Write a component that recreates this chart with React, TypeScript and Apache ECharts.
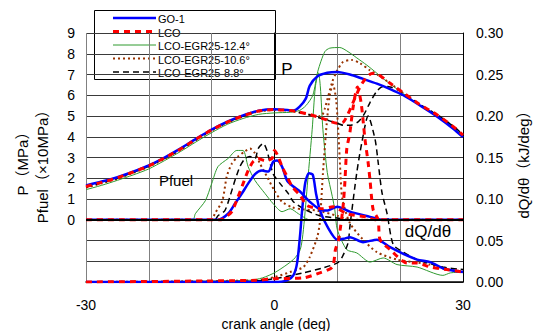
import React, { useEffect, useRef } from 'react';
import * as echarts from 'echarts';

const SERIES_NAMES = ['GO-1', 'LCO', 'LCO-EGR25-12.4°', 'LCO-EGR25-10.6°', 'LCO-EGR25-8.8°'];
const X_TICK_LABELS = [-30, 0, 30];
const LEFT_TICK_LABELS = [0, 1, 2, 3, 4, 5, 6, 7, 8, 9];

// Cylinder pressure P (MPa)
const pGO1 = [[-30,1.65],[-27.5,1.84],[-25,2.05],[-22.5,2.32],[-20,2.62],[-17.5,3.0],[-15,3.43],[-12.5,3.9],[-10,4.35],[-7.5,4.73],[-5,5.03],[-2.5,5.26],[0,5.33],[2.5,5.28],[3,5.26],[4,5.45],[5,5.85],[5.6,6.45],[6.8,6.9],[8.4,7.08],[10,7.12],[12,7.0],[14,6.8],[16.3,6.56],[18.4,6.3],[20.5,6.0],[23.2,5.5],[25.9,4.97],[28.4,4.4],[30,3.98]];
const pLCO = [[-30,1.6],[-27.5,1.8],[-25,2.02],[-22.5,2.3],[-20,2.6],[-17.5,2.98],[-15,3.4],[-12.5,3.88],[-10,4.33],[-7.5,4.71],[-5,5.01],[-2.5,5.24],[0,5.31],[2.5,5.26],[5,5.12],[7.5,4.9],[10,4.65],[11,4.72],[12,5.3],[13,6.0],[14,6.6],[15.5,7.05],[16.5,7.0],[18.4,6.58],[20.5,6.12],[23,5.58],[25.9,5.05],[28.4,4.5],[30,4.08]];
const pEGR124 = [[-30,1.45],[-27.5,1.66],[-25,1.9],[-22.5,2.16],[-20,2.45],[-17.5,2.85],[-15,3.28],[-12.5,3.75],[-10,4.2],[-7.5,4.6],[-5,4.88],[-2.5,5.08],[0,5.15],[2.5,5.18],[4,5.27],[5,5.5],[6.1,6.0],[6.9,7.16],[8,8.1],[8.8,8.27],[10.4,8.3],[11.7,8.1],[13.1,7.8],[14.7,7.45],[16.3,7.06],[17.3,6.8],[19.5,6.3],[20.5,6.08],[23,5.55],[25.9,5.0],[28.4,4.45],[30,4.0]];
const pEGR106 = [[-30,1.55],[-27.5,1.76],[-25,1.98],[-22.5,2.26],[-20,2.56],[-17.5,2.94],[-15,3.36],[-12.5,3.84],[-10,4.3],[-7.5,4.68],[-5,4.98],[-2.5,5.22],[0,5.29],[2.5,5.25],[5,5.1],[7,4.98],[7.6,5.05],[8,5.35],[9.2,6.65],[10,7.2],[10.9,7.6],[12.3,7.7],[13.6,7.55],[15.2,7.2],[16.5,6.97],[18.4,6.58],[20.5,6.1],[23,5.57],[25.9,5.05],[28.4,4.5],[30,4.06]];
const pEGR88 = [[-30,1.58],[-27.5,1.78],[-25,2.0],[-22.5,2.28],[-20,2.58],[-17.5,2.96],[-15,3.38],[-12.5,3.86],[-10,4.32],[-7.5,4.7],[-5,5.0],[-2.5,5.24],[0,5.31],[2.5,5.26],[5,5.1],[7.5,4.88],[10,4.65],[11,4.55],[12,4.55],[13.3,4.72],[14.2,5.05],[15.2,5.65],[16.3,6.2],[17.3,6.42],[18.4,6.4],[20,6.2],[21,6.0],[23,5.58],[25.9,5.05],[28.4,4.52],[30,4.1]];

// Fuel injection pressure Pfuel (x10 MPa)
const fGO1 = [[-30,0],[-9,0],[-7.4,0.29],[-6.3,0.77],[-5.2,1.26],[-4.2,1.74],[-3.1,2.2],[-2,2.37],[-1,2.32],[-0.2,2.8],[0.4,2.85],[1.2,2.56],[2,1.89],[3,1.6],[4.1,1.35],[5.6,0.87],[7.7,0.44],[8.5,0.45],[10,0.63],[12,0.39],[15.2,0.14],[17,0],[30,0]];
const fLCO = [[-30,0],[-8.5,0],[-7.9,0.1],[-6.8,0.39],[-5.8,1.11],[-5,1.74],[-4.2,2.37],[-3.4,2.8],[-2.6,2.95],[-1.5,2.85],[-0.4,2.95],[0,3.34],[0.5,3.1],[1.2,2.56],[2,2.08],[2.8,1.6],[4.1,1.16],[5.2,0.68],[7.7,0.53],[9.3,0.63],[11.5,0.29],[14.7,0.12],[16,0],[30,0]];
const fEGR124 = [[-30,0],[-13,0],[-12.6,0.29],[-11,0.92],[-10,1.74],[-9,2.56],[-7.4,2.95],[-6,3.34],[-5,3.34],[-4.2,2.56],[-3.1,1.89],[-1.5,1.26],[-0.2,0.77],[1.2,0.39],[2.5,0.53],[3.8,0.29],[5.6,0],[30,0]];
const fEGR106 = [[-30,0],[-10,0],[-9.5,0.29],[-8.3,0.92],[-7.6,2.08],[-6.8,2.7],[-5.8,3.05],[-4.7,3.3],[-3.9,3.43],[-3.1,3.2],[-2.3,2.7],[-1.2,2.08],[0,1.4],[1.2,0.87],[2.8,0.6],[4.5,0.5],[6.8,0.44],[10,0.19],[12,0],[30,0]];
const fEGR88 = [[-30,0],[-9.5,0],[-9,0.19],[-7.9,0.44],[-7.1,1.11],[-6.3,1.89],[-5.5,2.56],[-4.7,2.95],[-3.9,3.05],[-3.1,2.95],[-2.6,3.43],[-1.8,3.68],[-1.2,3.34],[-0.8,2.85],[-0.2,2.2],[0.9,1.74],[2.2,1.26],[3,0.87],[4.6,0.53],[7.2,0.19],[10,0.08],[12,0],[30,0]];

// Heat release rate dQ/dθ (kJ/deg)
const qGO1 = [[-30,0],[0,0],[2,0.002],[3,0.008],[3.6,0.023],[4.1,0.059],[4.4,0.087],[4.9,0.12],[5.5,0.131],[6.1,0.129],[6.6,0.107],[7.2,0.087],[8.4,0.067],[10,0.051],[11,0.052],[12,0.054],[14.1,0.048],[16.3,0.051],[18.4,0.042],[20.5,0.034],[22.7,0.027],[24.8,0.024],[27,0.016],[30,0.012]];
const qLCO = [[-30,0],[-3,0.002],[0,0.004],[4.6,0.005],[7.2,0.011],[9.2,0.018],[9.7,0.039],[10.2,0.051],[10.9,0.09],[11.2,0.12],[11.5,0.16],[12,0.18],[12.5,0.21],[13.2,0.235],[13.8,0.215],[14.4,0.172],[14.9,0.144],[15.2,0.123],[15.7,0.087],[16.5,0.075],[16.8,0.051],[18.4,0.039],[21.1,0.023],[22.7,0.023],[24.8,0.018],[27.4,0.015],[30,0.012]];
const qEGR124 = [[-30,0],[-4,0.002],[-1.9,0.005],[0.2,0.012],[3,0.027],[4.1,0.039],[4.6,0.063],[5.3,0.123],[6,0.184],[6.5,0.235],[7,0.252],[7.3,0.235],[7.7,0.184],[8.4,0.132],[9.2,0.103],[9.6,0.087],[10,0.063],[11.5,0.039],[13.1,0.035],[15.2,0.024],[17.3,0.029],[19.5,0.021],[22.7,0.018],[26.8,0.008],[28,0.011],[30,0.012]];
const qEGR106 = [[-30,0],[-3,0.002],[0,0.006],[2.5,0.012],[4.6,0.018],[5.6,0.03],[6.8,0.054],[7.2,0.071],[7.7,0.13],[8.3,0.19],[8.8,0.225],[9.3,0.238],[9.8,0.22],[10.2,0.175],[10.5,0.13],[10.8,0.1],[12,0.071],[14.1,0.051],[16.3,0.036],[19.5,0.027],[24.8,0.021],[27.4,0.015],[30,0.013]];
const qEGR88 = [[-30,0],[-5,0],[0,0.004],[4.6,0.011],[7.7,0.017],[10,0.023],[10.7,0.029],[11.7,0.047],[12,0.067],[13.1,0.132],[13.9,0.168],[14.9,0.2],[16,0.172],[16.5,0.144],[17.1,0.108],[17.9,0.083],[18.9,0.045],[20.5,0.036],[22.7,0.027],[26.8,0.018],[30,0.015]];

const P_SETS = [pGO1, pLCO, pEGR124, pEGR106, pEGR88];
const F_SETS = [fGO1, fLCO, fEGR124, fEGR106, fEGR88];
const Q_SETS = [qGO1, qLCO, qEGR124, qEGR106, qEGR88];

const STYLES = [
  { color: '#0000ff', width: 2.5, dash: null as number[] | null },
  { color: '#ff0000', width: 3, dash: [6, 5] },
  { color: '#2f9a2f', width: 1, dash: null },
  { color: '#993300', width: 2, dash: [2, 3] },
  { color: '#000000', width: 1.5, dash: [6, 4] },
];
const DRAW_ORDER = [2, 3, 4, 0, 1];

const FONT = '"Liberation Sans", Arial, "Noto Sans CJK JP", sans-serif';
const CJK = '"Liberation Sans", "Noto Sans CJK JP", sans-serif';

export default function App() {
  const ref = useRef<HTMLDivElement>(null);
  useEffect(() => {
    if (!ref.current) return;
    const chart = echarts.init(ref.current, undefined, { renderer: 'svg' });
    const series: any[] = [];
    let first = true;
    DRAW_ORDER.forEach((i) => {
      const st = STYLES[i];
      const ls = { color: st.color, width: st.width, type: st.dash ? st.dash : 'solid' };
      const groups = [
        { data: P_SETS[i], y: 0 },
        { data: F_SETS[i], y: 0 },
        { data: Q_SETS[i], y: 1 },
      ];
      groups.forEach((g) => {
        const s: any = {
          name: SERIES_NAMES[i],
          type: 'line',
          yAxisIndex: g.y,
          data: g.data,
          symbol: 'none',
          smooth: 0.25,
          lineStyle: ls,
          itemStyle: { color: st.color },
          silent: true,
        };
        if (first) {
          s.markLine = {
            silent: true,
            symbol: 'none',
            label: { show: false },
            lineStyle: { color: '#000', width: 2, type: 'solid' },
            data: [{ yAxis: 0 }],
          };
          first = false;
        }
        series.push(s);
      });
    });

    const legendRows = [18, 31.5, 45, 58.5, 72];
    const legendChildren: any[] = [
      { type: 'rect', shape: { x: 94.5, y: 10.5, width: 181, height: 69 }, style: { fill: '#fff', stroke: '#000', lineWidth: 1 } },
    ];
    SERIES_NAMES.forEach((n, i) => {
      const st = STYLES[i];
      legendChildren.push({
        type: 'line',
        shape: { x1: 113, y1: legendRows[i], x2: 156, y2: legendRows[i] },
        style: { stroke: st.color, lineWidth: st.width, lineDash: st.dash || undefined },
      });
      legendChildren.push({
        type: 'text',
        style: { text: n, x: 158, y: legendRows[i] + 1, font: `11px ${FONT}`, fill: '#000', textAlign: 'left', align: 'left', textVerticalAlign: 'middle', verticalAlign: 'middle' },
      });
    });

    const txt = (text: string, x: number, y: number, size: number, rot = 0, family = FONT) => ({
      type: 'text',
      x, y, rotation: rot,
      z: 100,
      style: { text, x: 0, y: 0, font: `${size}px ${family}`, fill: '#000', textAlign: 'center', align: 'center', textVerticalAlign: 'middle', verticalAlign: 'middle' },
    });

    chart.setOption({
      animation: false,
      backgroundColor: '#fff',
      grid: { left: 86, right: 71, top: 33, bottom: 49, containLabel: false },
      xAxis: {
        type: 'value', min: -30, max: 30, interval: 10,
        axisLine: { show: true, onZero: false, lineStyle: { color: '#000', width: 1.5 } },
        axisTick: { show: false },
        axisLabel: {
          margin: 16, color: '#000', fontSize: 14, fontFamily: FONT,
          formatter: (v: number) => (X_TICK_LABELS.includes(v) ? String(v) : ''),
        },
        splitLine: { show: true, lineStyle: { color: '#808080', width: 1 } },
      },
      yAxis: [
        {
          type: 'value', min: -3, max: 9, interval: 1, position: 'left',
          axisLine: { show: true, lineStyle: { color: '#000', width: 1 } },
          axisTick: { show: false },
          axisLabel: {
            margin: 11, color: '#000', fontSize: 14, fontFamily: FONT, padding: [5, 0, 0, 0],
            formatter: (v: number) => (LEFT_TICK_LABELS.includes(v) ? String(v) : ''),
          },
          splitLine: { show: true, lineStyle: { color: '#3a3a3a', width: 1 } },
        },
        {
          type: 'value', min: 0, max: 0.3, interval: 0.05, position: 'right',
          axisLine: { show: true, lineStyle: { color: '#000', width: 1 } },
          axisTick: { show: false },
          axisLabel: { margin: 13, color: '#000', fontSize: 14, fontFamily: FONT, padding: [5, 0, 0, 0], formatter: (v: number) => v.toFixed(2) },
          splitLine: { show: false },
        },
      ],
      series,
      graphic: [
        { type: 'group', z: 100, children: legendChildren },
        txt('P', 287, 69, 17),
        txt('Pfuel', 176, 180, 15),
        txt('dQ/dθ', 428, 231, 17),
        txt('P（MPa）', 22, 160, 15, Math.PI / 2, CJK),
        txt('Pfuel（×10MPa）', 42, 163, 15, Math.PI / 2, CJK),
        txt('dQ/dθ（kJ/deg）', 523, 161, 15, Math.PI / 2, CJK),
        txt('crank angle (deg)', 276, 324, 14),
      ],
    });
    return () => chart.dispose();
  }, []);
  return <div ref={ref} style={{ position: 'fixed', left: 0, top: 0, width: 534, height: 331, background: '#fff' }} />;
}
